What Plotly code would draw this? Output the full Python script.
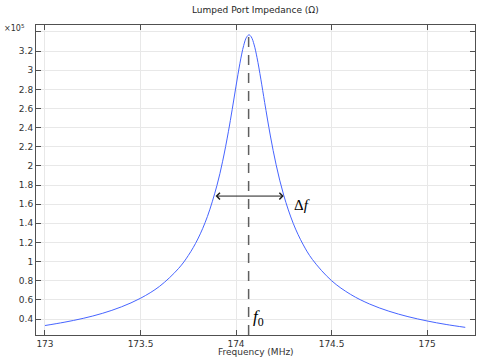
import plotly.graph_objects as go

# Frequency (MHz) and |Z| (x10^5 Ohm)
freq = [173.0, 173.1, 173.2, 173.3, 173.4, 173.5, 173.6, 173.7, 173.75, 173.8,
        173.85, 173.9, 173.93, 173.96, 173.98, 174.0, 174.02, 174.04, 174.055,
        174.068, 174.08, 174.095, 174.11, 174.13, 174.15, 174.18, 174.21, 174.25,
        174.3, 174.35, 174.4, 174.5, 174.6, 174.7, 174.8, 174.9, 175.0, 175.1, 175.2]
impedance = [0.332, 0.366, 0.407, 0.459, 0.527, 0.617, 0.742, 0.930, 1.063, 1.236,
             1.470, 1.795, 2.049, 2.357, 2.590, 2.834, 3.068, 3.258, 3.345,
             3.370, 3.348, 3.265, 3.132, 2.907, 2.663, 2.313, 2.012, 1.692,
             1.397, 1.183, 1.022, 0.801, 0.657, 0.556, 0.482, 0.425, 0.380, 0.343, 0.313]

f0 = 174.066
peak = 3.37
half_level = 1.685
df_left = 173.885
df_right = 174.25

xtick_vals = [173, 173.5, 174, 174.5, 175]
xtick_text = ["173", "173.5", "174", "174.5", "175"]
ytick_vals = [0.4, 0.6, 0.8, 1.0, 1.2, 1.4, 1.6, 1.8, 2.0, 2.2, 2.4, 2.6, 2.8, 3.0, 3.2, 3.4]
ytick_text = ["0.4", "0.6", "0.8", "1", "1.2", "1.4", "1.6", "1.8", "2", "2.2", "2.4",
              "2.6", "2.8", "3", "3.2", ""]

font = "DejaVu Sans"
fig = go.Figure()
fig.add_trace(go.Scatter(x=freq, y=impedance, mode="lines", line_shape="spline",
                         line=dict(color="rgb(70,100,255)", width=1), hoverinfo="skip"))

# dashed resonance line
fig.add_shape(type="line", x0=f0, x1=f0, y0=0.233, y1=peak, xref="x", yref="y",
              line=dict(color="rgb(95,95,95)", width=1.5, dash="10px,8px"))

# double arrow for bandwidth
fig.add_annotation(x=df_right, y=half_level, ax=df_left, ay=half_level,
                   xref="x", yref="y", axref="x", ayref="y", text="",
                   showarrow=True, arrowhead=4, arrowside="end+start",
                   arrowsize=1.3, arrowwidth=1, arrowcolor="rgb(30,30,30)")

fig.add_annotation(x=df_right, y=half_level, xref="x", yref="y", text="Δ<i>f</i>",
                   showarrow=False, xanchor="left", yanchor="top", xshift=8, yshift=1,
                   font=dict(family="Liberation Serif", size=15, color="black"))
fig.add_annotation(x=f0, y=0.4, xref="x", yref="y", text="<i>f</i><sub>0</sub>",
                   showarrow=False, xanchor="left", yanchor="middle", xshift=2, yshift=1,
                   font=dict(family="Liberation Serif", size=17, color="black"))

fig.add_annotation(x=-0.077, y=0.99, xref="paper", yref="paper", text="×10<sup>5</sup>",
                   showarrow=False, xanchor="left", yanchor="middle",
                   font=dict(family=font, size=8, color="rgb(50,50,50)"))
fig.add_annotation(x=0.5, y=-0.055, xref="paper", yref="paper", text="Frequency (MHz)",
                   showarrow=False, xanchor="center", yanchor="middle",
                   font=dict(family=font, size=9, color="rgb(50,50,50)"))
fig.add_annotation(x=0.5, y=1.048, xref="paper", yref="paper",
                   text="Lumped Port Impedance (Ω)",
                   showarrow=False, xanchor="center", yanchor="middle",
                   font=dict(family=font, size=9, color="rgb(30,30,30)"))

axis_common = dict(showline=True, linecolor="rgb(80,80,80)", linewidth=1, mirror="ticks",
                   ticks="inside", ticklen=5, tickcolor="rgb(80,80,80)",
                   showgrid=True, gridcolor="rgb(232,232,232)", gridwidth=1,
                   zeroline=False, automargin=False,
                   tickfont=dict(family=font, size=9, color="rgb(50,50,50)"))

fig.update_xaxes(range=[172.953, 175.251], tickvals=xtick_vals, ticktext=xtick_text,
                 **axis_common)
fig.update_yaxes(range=[0.233, 3.473], tickvals=ytick_vals, ticktext=ytick_text,
                 **axis_common)

fig.update_layout(
    width=489, height=360,
    margin=dict(l=36, r=14, t=25, b=25, autoexpand=False),
    paper_bgcolor="white", plot_bgcolor="white",
    showlegend=False,
)

fig.write_html("out.html", config={"displayModeBar": False},
               post_script="document.body.style.margin='0px';document.body.style.overflow='hidden';")
